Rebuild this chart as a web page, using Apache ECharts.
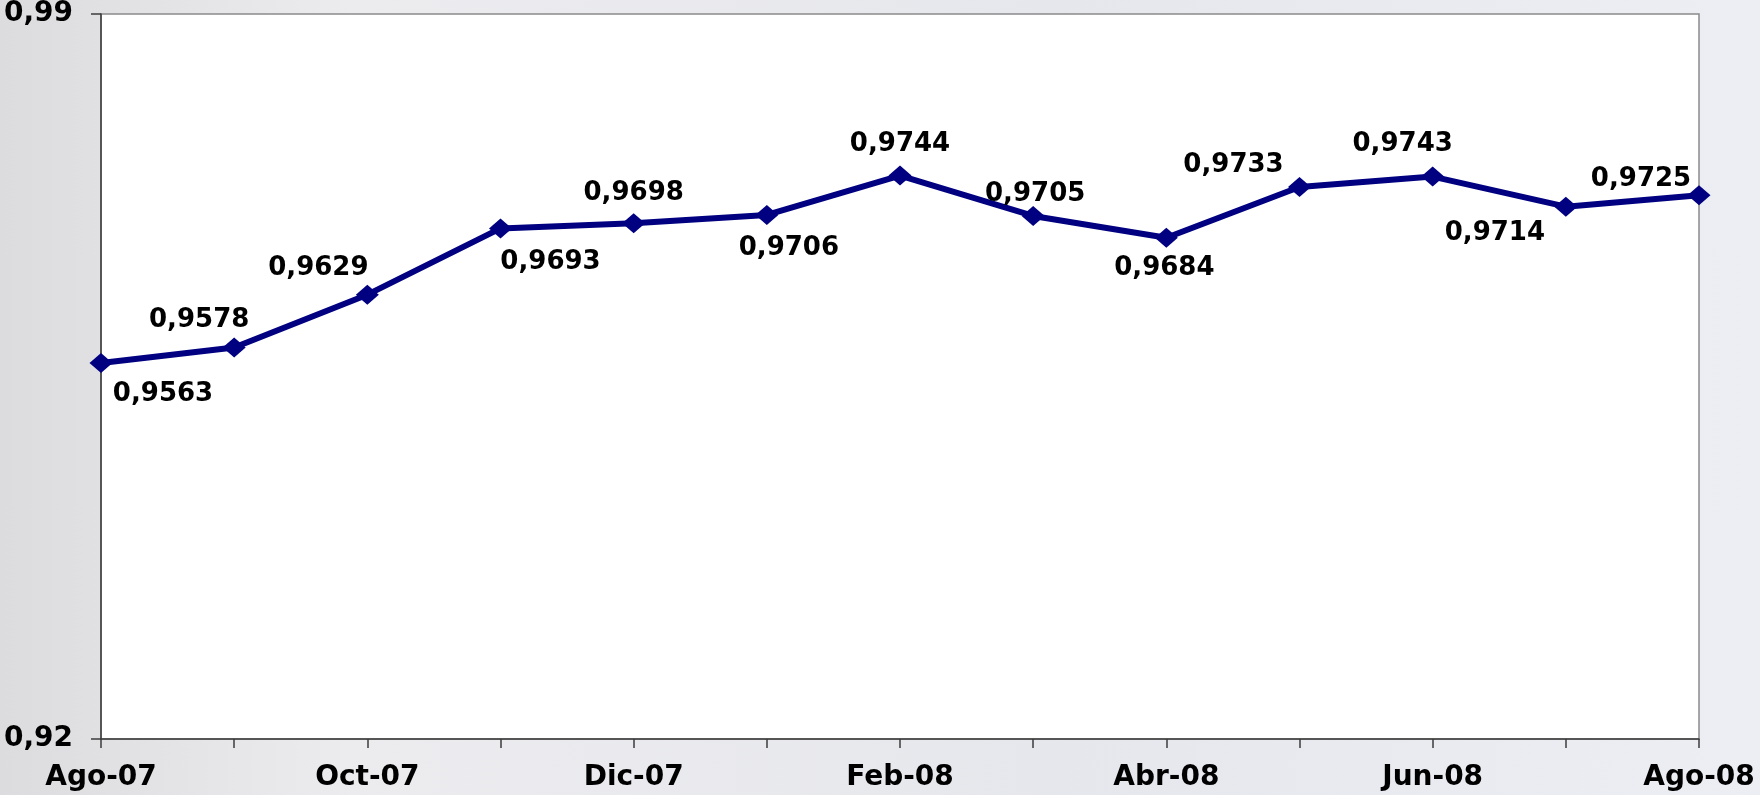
<!DOCTYPE html>
<html>
<head>
<meta charset="utf-8">
<script src="https://cdn.jsdelivr.net/npm/echarts@6/dist/echarts.min.js"></script>
<style>
html, body { margin: 0; padding: 0; }
#chart {
    width: 1760px; height: 795px;
    background: linear-gradient(90deg, #dcdcdf 0%, #ececef 20%, #e6e7ec 60%, #eceef3 100%);
}
</style>
</head>
<body>
<div id="chart"></div>
<script>
// meses (eje x)
var meses = ['Ago-07','Sep-07','Oct-07','Nov-07','Dic-07','Ene-08','Feb-08',
             'Mar-08','Abr-08','May-08','Jun-08','Jul-08','Ago-08'];
// valores del indice
var valores = [0.9563, 0.9578, 0.9629, 0.9693, 0.9698, 0.9706, 0.9744,
               0.9705, 0.9684, 0.9733, 0.9743, 0.9714, 0.9725];
var yTicks = [0.92, 0.99];

// donde va cada etiqueta respecto al punto
var desplaz = [[62,31],[-35,-27],[-49,-26],[50,34],[0,-30],[22,33],[0,-31],
               [2,-22],[-2,31],[-66,-22],[-30,-32],[-71,27],[-58,-16]];

function coma(v) { return String(v).replace('.', ','); }

var puntos = [];
for (var i = 0; i < valores.length; i++) {
    puntos.push({
        value: valores[i],
        label: { offset: desplaz[i] }
    });
}

var myChart = echarts.init(document.getElementById('chart'));
var option = {
    animation: false,
    grid: {
        left: 101, right: 61, top: 14, bottom: 56,
        show: true,
        backgroundColor: '#ffffff',
        borderColor: '#8a8a8a',
        borderWidth: 1.5
    },
    xAxis: {
        type: 'category',
        data: meses,
        boundaryGap: false,
        axisLine: { lineStyle: { color: '#3c3c3c', width: 1.5 } },
        axisTick: { show: true, interval: 0, length: 9, lineStyle: { color: '#3c3c3c', width: 1.5 } },
        axisLabel: {
            interval: 1,
            margin: 25,
            color: '#000',
            fontFamily: 'DejaVu Sans',
            fontWeight: 'bold',
            fontSize: 28
        },
        splitLine: { show: false }
    },
    yAxis: {
        type: 'value',
        min: yTicks[0],
        max: yTicks[1],
        interval: yTicks[1] - yTicks[0],
        axisLine: { show: true, lineStyle: { color: '#3c3c3c', width: 1.5 } },
        axisTick: { show: true, length: 10, lineStyle: { color: '#3c3c3c', width: 1.5 } },
        axisLabel: {
            margin: 28,
            color: '#000',
            fontFamily: 'DejaVu Sans',
            fontWeight: 'bold',
            fontSize: 28,
            formatter: function (v) { return coma(v.toFixed(2)); }
        },
        splitLine: { show: false }
    },
    series: [{
        type: 'line',
        data: puntos,
        symbol: 'diamond',
        symbolSize: [23, 20],
        itemStyle: { color: '#000080' },
        lineStyle: { color: '#000080', width: 6 },
        label: {
            show: true,
            position: 'inside',
            color: '#000',
            fontFamily: 'DejaVu Sans',
            fontWeight: 'bold',
            fontSize: 26,
            formatter: function (p) { return coma(p.value.toFixed(4)); }
        }
    }]
};
myChart.setOption(option);
</script>
</body>
</html>
